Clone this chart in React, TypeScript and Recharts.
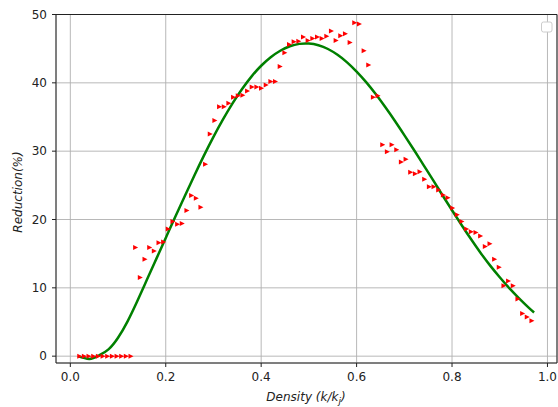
import { ComposedChart, Line, Scatter, XAxis, YAxis, CartesianGrid, ReferenceArea } from "recharts";

// measured points (density k/kj vs reduction %)
const density = [
  0.0193, 0.0291, 0.0388, 0.0486, 0.0584, 0.0682, 0.0779, 0.0877, 0.0975, 0.1072,
  0.117, 0.1268, 0.1365, 0.1463, 0.1561, 0.1659, 0.1756, 0.1854, 0.1952, 0.2049,
  0.2147, 0.2245, 0.2342, 0.244, 0.2538, 0.2636, 0.2733, 0.2831, 0.2929, 0.3026,
  0.3124, 0.3222, 0.3319, 0.3417, 0.3515, 0.3613, 0.371, 0.3808, 0.3906, 0.4003,
  0.4101, 0.4199, 0.4296, 0.4394, 0.4492, 0.459, 0.4687, 0.4785, 0.4883, 0.498,
  0.5078, 0.5176, 0.5273, 0.5371, 0.5469, 0.5567, 0.5664, 0.5762, 0.586, 0.5957,
  0.6055, 0.6153, 0.625, 0.6348, 0.6446, 0.6544, 0.6641, 0.6739, 0.6837, 0.6934,
  0.7032, 0.713, 0.7227, 0.7325, 0.7423, 0.7521, 0.7618, 0.7716, 0.7814, 0.7911,
  0.8009, 0.8107, 0.8204, 0.8302, 0.84, 0.8498, 0.8595, 0.8693, 0.8791, 0.8888,
  0.8986, 0.9084, 0.9181, 0.9279, 0.9377, 0.9475, 0.9572, 0.967,
];

const reduction = [
  0, 0, 0, 0, 0, 0, 0, 0, 0, 0, 0, 0,
  15.9, 11.5, 14.2, 15.9, 15.4, 16.6, 16.7, 18.6, 19.7, 19.3,
  19.4, 21.3, 23.5, 23.1, 21.8, 28.1, 32.5, 34.5, 36.5, 36.5,
  37.0, 37.9, 38.1, 38.2, 38.8, 39.4, 39.4, 39.2, 39.7, 40.2, 40.2,
  42.4, 44.4, 45.6, 46.0, 46.1, 46.7, 46.2, 46.5, 46.7, 46.5,
  46.8, 47.6, 46.2, 46.9, 47.2, 45.9, 48.8, 48.6, 44.7, 42.6, 37.9, 38.1,
  30.95, 29.9, 30.95, 30.2, 28.4, 28.8, 26.9, 26.7, 27.0, 25.9,
  24.8, 24.8, 24.3, 23.6, 23.2, 21.7,
  20.7, 19.7, 18.6, 18.2, 18.1, 17.6, 16.05, 16.45, 14.2, 13.0,
  10.3, 11.0, 10.3, 8.35, 6.25, 5.75, 5.2,
];

// fitted curve
const fitDensity = [
  0.016, 0.04, 0.06, 0.08, 0.1, 0.12, 0.14, 0.16, 0.18, 0.2,
  0.22, 0.24, 0.26, 0.28, 0.3, 0.32, 0.34, 0.36, 0.38, 0.4,
  0.42, 0.44, 0.46, 0.48, 0.5, 0.52, 0.54, 0.56, 0.58, 0.6,
  0.62, 0.64, 0.66, 0.68, 0.7, 0.72, 0.74, 0.76, 0.78, 0.8,
  0.82, 0.84, 0.86, 0.88, 0.9, 0.92, 0.94, 0.96, 0.972,
];

const fitReduction = [
  0.0, -0.4, 0.1, 1.0, 2.7, 5.1, 8.0, 11.1, 14.2, 17.3,
  20.4, 23.45, 26.45, 29.35, 32.1, 34.65, 37.0, 39.1, 40.95, 42.5,
  43.75, 44.7, 45.35, 45.7, 45.75, 45.5, 44.95, 44.1, 43.0, 41.65,
  40.1, 38.35, 36.45, 34.45, 32.35, 30.2, 28.0, 25.8, 23.55, 21.35,
  19.2, 17.1, 15.1, 13.25, 11.55, 9.95, 8.5, 7.15, 6.4,
];

const xTicks = [0, 0.2, 0.4, 0.6, 0.8, 1.0];
const yTicks = [0, 10, 20, 30, 40, 50];

const points = density.map((x, i) => ({ x, y: reduction[i] }));
const fit = fitDensity.map((x, i) => ({ x, y: fitReduction[i] }));

const font = "'DejaVu Sans', sans-serif";

function Arrow(props: any) {
  const { cx, cy } = props;
  if (cx == null || cy == null) return null;
  return (
    <polygon
      points={`${cx - 2.3},${cy - 2.5} ${cx + 2.7},${cy} ${cx - 2.3},${cy + 2.5}`}
      fill="#ff0000"
    />
  );
}

export default function App() {
  return (
    <div style={{ position: "absolute", left: 0, top: 0, width: 558, height: 407, background: "#fff" }}>
      <ComposedChart width={558} height={407} margin={{ top: 14.5, right: 1, bottom: 0, left: 0 }}>
        <CartesianGrid stroke="#b0b0b0" strokeWidth={0.9} />
        <XAxis
          type="number"
          dataKey="x"
          domain={[-0.03, 1.02]}
          ticks={xTicks}
          tickFormatter={(v: number) => v.toFixed(1)}
          allowDataOverflow
          height={44}
          axisLine={false}
          tickLine={{ stroke: "#222" }}
          tickSize={4}
          tickMargin={5}
          tick={{ fontSize: 12, fill: "#222", fontFamily: font }}
        />
        <YAxis
          type="number"
          dataKey="y"
          domain={[-1, 50]}
          ticks={yTicks}
          allowDataOverflow
          width={56}
          axisLine={false}
          tickLine={{ stroke: "#222" }}
          tickSize={4}
          tickMargin={5}
          tick={{ fontSize: 12, fill: "#222", fontFamily: font }}
        />
        <Scatter data={points} dataKey="y" shape={Arrow} isAnimationActive={false} />
        <Line
          data={fit}
          dataKey="y"
          type="natural"
          stroke="#008000"
          strokeWidth={2.5}
          dot={false}
          isAnimationActive={false}
        />
        <ReferenceArea x1={-0.03} x2={1.02} y1={-1} y2={50} fill="none" stroke="#222" strokeWidth={1} />
      </ComposedChart>
      <svg
        width={558}
        height={407}
        style={{ position: "absolute", left: 0, top: 0, pointerEvents: "none" }}
      >
        <text
          x={306}
          y={401}
          textAnchor="middle"
          fontFamily={font}
          fontStyle="italic"
          fontSize={12}
          fill="#222"
        >
          Density (k/k<tspan fontSize={9} dy={3}>j</tspan>
          <tspan dy={-3}>)</tspan>
        </text>
        <text
          transform="translate(17.5,192) rotate(-90)"
          textAnchor="middle"
          dominantBaseline="central"
          fontFamily={font}
          fontStyle="italic"
          fontSize={12}
          fill="#222"
        >
          Reduction(%)
        </text>
        <rect x={541.5} y={22} width={10.5} height={10} rx={2} fill="#fff" stroke="#cccccc" strokeWidth={1} />
      </svg>
    </div>
  );
}
